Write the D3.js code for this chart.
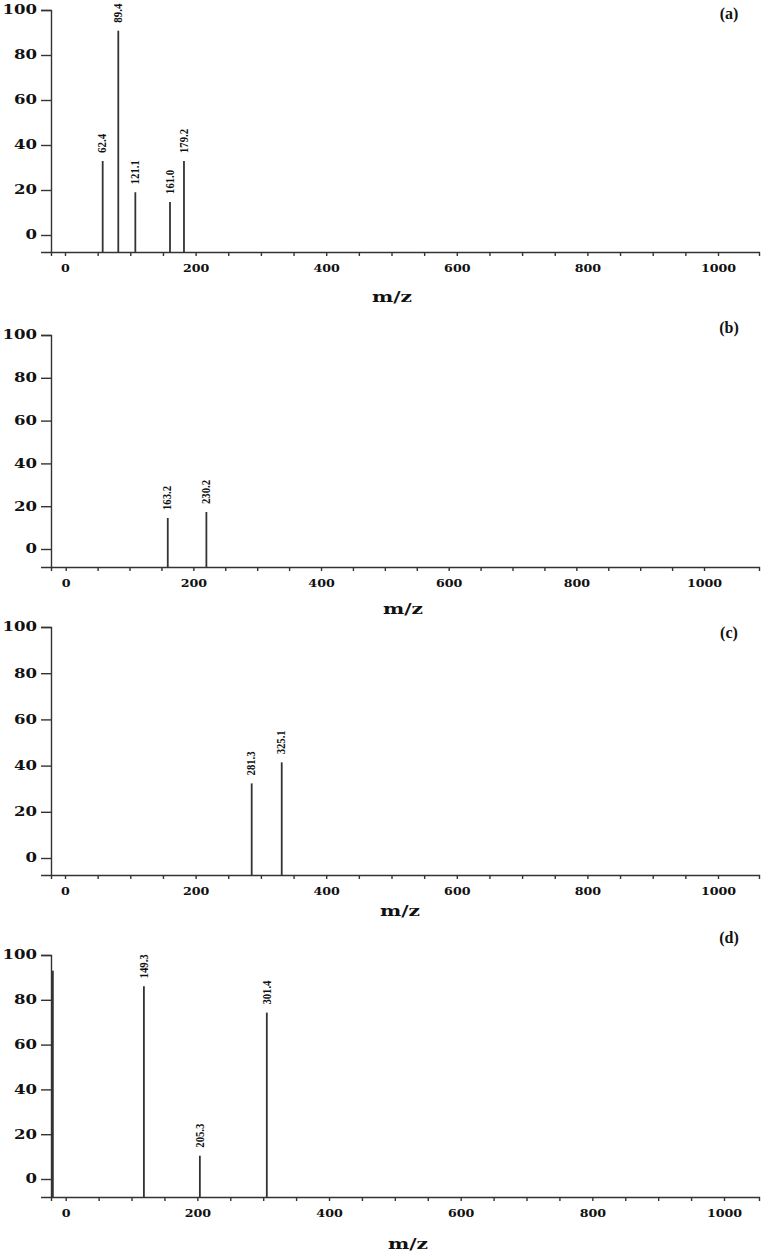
<!DOCTYPE html>
<html>
<head>
<meta charset="utf-8">
<script src="https://cdn.jsdelivr.net/npm/d3@7"></script>
<style>
    body { margin: 0; background: #fff; }
    svg { display: block; }
</style>
</head>
<body>
<div id="chart"></div>
<script>
// peak positions (m/z), intensities (%) and printed labels
var mzA = [57.7, 81.6, 107.7, 160.8, 182.2];
var intA = [32.9, 90.8, 19.0, 14.7, 32.9];
var labA = ["62.4", "89.4", "121.1", "161.0", "179.2"];

var mzB = [159.9, 220.4];
var intB = [14.5, 17.3];
var labB = ["163.2", "230.2"];

var mzC = [285.9, 331.9];
var intC = [32.3, 41.4];
var labC = ["281.3", "325.1"];

var mzD = [-19.5, 118.8, 203.8, 305.5];
var intD = [93, 86.0, 10.4, 74.3];
var labD = ["", "149.3", "205.3", "301.4"];

var yTicks = [0, 20, 40, 60, 80, 100];
var xMajor = [0, 200, 400, 600, 800, 1000];
var panelNames = ["(a)", "(b)", "(c)", "(d)"];
var xTitle = "m/z";

var W = 761, H = 1255;
var ink = "#333";

// layout of each panel in page pixels
var panels = [
    {name: panelNames[0], mz: mzA, it: intA, lab: labA, top: 10, zero: 235, axisY: 252, x0: 65, x1000: 718, titleX: 392, titleY: 297, nameY: 13},
    {name: panelNames[1], mz: mzB, it: intB, lab: labB, top: 335, zero: 549, axisY: 567, x0: 65.7, x1000: 704, titleX: 403, titleY: 609, nameY: 327},
    {name: panelNames[2], mz: mzC, it: intC, lab: labC, top: 627, zero: 858, axisY: 875, x0: 65, x1000: 718, titleX: 400, titleY: 911, nameY: 632},
    {name: panelNames[3], mz: mzD, it: intD, lab: labD, top: 955, zero: 1179, axisY: 1197, x0: 65.7, x1000: 724, titleX: 408, titleY: 1244, nameY: 937}
];

var left = 51, right = 759;

var svg = d3.select("#chart").append("svg")
    .attr("width", W)
    .attr("height", H);

panels.forEach(function (p) {
    var base = d3.scaleLinear().domain([0, 1000]).range([p.x0, p.x1000]);
    var x = d3.scaleLinear()
        .domain([base.invert(left), base.invert(right)])
        .range([left, right]);

    var yb = d3.scaleLinear().domain([0, 100]).range([p.zero, p.top]);
    var y = d3.scaleLinear()
        .domain([yb.invert(p.axisY), 100])
        .range([p.axisY, p.top]);

    var g = svg.append("g");

    // x axis: ticks every 50, labels every 200
    var xt = d3.range(0, 1001, 50);
    var gx = g.append("g")
        .attr("transform", "translate(0," + p.axisY + ")")
        .call(d3.axisBottom(x)
            .tickValues(xt)
            .tickSizeOuter(0)
            .tickSize(4)
            .tickPadding(9)
            .tickFormat(function (d) { return xMajor.indexOf(d) >= 0 ? d : ""; }));
    gx.selectAll("text")
        .attr("font-family", "DejaVu Serif")
        .attr("font-weight", "bold")
        .attr("font-size", 10.5)
        .attr("fill", "#111")
        .attr("textLength", function (d) { return xMajor.indexOf(d) >= 0 ? String(d).length * 8.8 : null; })
        .attr("lengthAdjust", "spacingAndGlyphs");

    // y axis
    var gy = g.append("g")
        .attr("transform", "translate(" + left + ",0)")
        .call(d3.axisLeft(y)
            .tickValues(yTicks)
            .tickSizeOuter(0)
            .tickSize(10)
            .tickPadding(4));
    gy.selectAll("text")
        .attr("font-family", "DejaVu Serif")
        .attr("font-weight", "bold")
        .attr("font-size", 12)
        .attr("fill", "#111")
        .attr("textLength", function (d) { return String(d).length * 11.5; })
        .attr("lengthAdjust", "spacingAndGlyphs");

    g.selectAll(".domain, .tick line")
        .attr("stroke", ink)
        .attr("stroke-width", 1.4);

    // peaks
    var data = p.mz.map(function (m, i) {
        return {mz: m, v: p.it[i], label: p.lab[i]};
    });

    g.selectAll(".peak")
        .data(data)
        .enter().append("line")
        .attr("class", "peak")
        .attr("x1", function (d) { return x(d.mz); })
        .attr("x2", function (d) { return x(d.mz); })
        .attr("y1", p.axisY)
        .attr("y2", function (d) { return y(d.v); })
        .attr("stroke", ink)
        .attr("stroke-width", 1.8);

    g.selectAll(".plab")
        .data(data.filter(function (d) { return d.label; }))
        .enter().append("text")
        .attr("class", "plab")
        .attr("transform", function (d) {
            return "translate(" + (x(d.mz) - 1) + "," + (y(d.v) - 8) + ") rotate(-90)";
        })
        .attr("dy", "0.35em")
        .attr("text-anchor", "start")
        .attr("font-family", "Liberation Serif")
        .attr("font-weight", "bold")
        .attr("font-size", 13.5)
        .attr("fill", "#111")
        .attr("textLength", function (d) { return d.label.length * 4.8; })
        .attr("lengthAdjust", "spacingAndGlyphs")
        .text(function (d) { return d.label; });

    // axis title
    g.append("text")
        .attr("x", p.titleX)
        .attr("y", p.titleY)
        .attr("dy", "0.35em")
        .attr("text-anchor", "middle")
        .attr("font-family", "DejaVu Serif")
        .attr("font-weight", "bold")
        .attr("font-size", 15)
        .attr("fill", "#111")
        .attr("textLength", 40)
        .attr("lengthAdjust", "spacingAndGlyphs")
        .text(xTitle);

    // panel letter
    g.append("text")
        .attr("x", 729)
        .attr("y", p.nameY)
        .attr("dy", "0.35em")
        .attr("text-anchor", "middle")
        .attr("font-family", "Liberation Serif")
        .attr("font-weight", "bold")
        .attr("font-size", 16)
        .attr("fill", "#111")
        .text(p.name);
});
</script>
</body>
</html>
